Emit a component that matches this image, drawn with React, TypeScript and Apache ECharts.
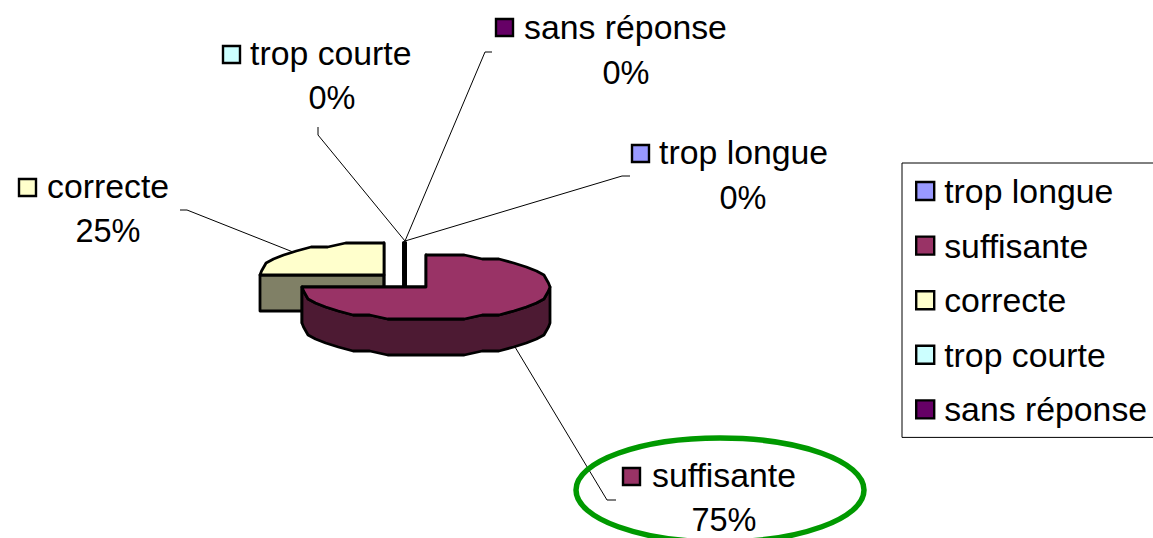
import React, { useEffect, useRef } from "react";
import * as echarts from "echarts";

// ---- data
const categories = ["trop longue", "suffisante", "correcte", "trop courte", "sans réponse"];
const percents = [0, 75, 25, 0, 0];
const topColors = ["#9999FF", "#993366", "#FFFFCC", "#CCFFFF", "#660066"];
const sideColors = ["#4D4D80", "#4D1A33", "#808066", "#668080", "#330033"];

// ---- layout
const FONT = "'Liberation Sans', Arial, sans-serif";
const NAME_SIZE = 33.8;
const PERCENT_SIZE = 32.5;
const RX = 124;
const RY = 32.5;
const DEPTH = 36;
const STEP = 9;
const SNAP = 4; // the rim of the original is a coarse, stepped outline
// exploded centre of each slice, in category order
const centres: [number, number][] = [
  [405.6, 275],
  [426, 287],
  [384, 275],
  [403.6, 275],
  [404.6, 275],
];
// back to front
const drawOrder = [2, 0, 3, 4, 1];
// swatch left/top, text left, first-line mid y, percent centre x, percent mid y
const labelPos = [
  { sx: 632, sy: 145, tx: 659, ty: 152, px: 743, py: 198 },
  { sx: 623, sy: 468, tx: 652, ty: 475, px: 724, py: 520 },
  { sx: 19, sy: 179, tx: 47, ty: 186, px: 108, py: 231 },
  { sx: 223, sy: 46, tx: 250, ty: 53, px: 332, py: 98 },
  { sx: 496, sy: 19, tx: 524, ty: 27, px: 626, py: 73 },
];
const leaders: number[][][] = [
  [[630, 176], [622, 176], [405, 241]],
  [[515, 347], [607, 500], [616, 500]],
  [[180, 210], [187, 210], [293, 252]],
  [[318, 127], [318, 135], [405, 241]],
  [[492, 52], [485, 52], [405, 241]],
];

const total = percents.reduce((a, b) => a + b, 0);
const startAngle = (i: number) =>
  (percents.slice(0, i).reduce((a, b) => a + b, 0) / total) * 360;

function rimPoint(i: number, deg: number, dy = 0): number[] {
  const [cx, cy] = centres[i];
  const r = (deg * Math.PI) / 180;
  const yOff = -RY * Math.cos(r);
  return [cx + RX * Math.sin(r), cy + Math.round(yOff / SNAP) * SNAP + dy];
}

function arcPoints(i: number, a0: number, a1: number, dy = 0): number[][] {
  const pts: number[][] = [];
  if (a1 <= a0) return [rimPoint(i, a0, dy)];
  let a = a0;
  while (a < a1) {
    pts.push(rimPoint(i, a, dy));
    a += STEP;
  }
  pts.push(rimPoint(i, a1, dy));
  return pts;
}

function renderSlice(i: number) {
  return (_params: any, api: any) => {
    const sweep = (api.value(0) / total) * 360;
    const a0 = startAngle(i);
    const a1 = a0 + sweep;
    const [cx, cy] = centres[i];
    const lineStyle = {
      stroke: "#000",
      lineWidth: 2.8,
      lineJoin: "round",
    };
    const children: any[] = [];
    const wall = (deg: number) => ({
      type: "polygon",
      shape: {
        points: [[cx, cy], rimPoint(i, deg), rimPoint(i, deg, DEPTH), [cx, cy + DEPTH]],
      },
      style: { fill: sideColors[i], ...lineStyle },
    });
    children.push(wall(a0));
    children.push(wall(a1));
    const f0 = Math.max(a0, 90);
    const f1 = Math.min(a1, 270);
    if (f1 > f0) {
      const upper = arcPoints(i, f0, f1);
      const lower = arcPoints(i, f0, f1, DEPTH).reverse();
      children.push({
        type: "polygon",
        shape: { points: [...upper, ...lower] },
        style: { fill: sideColors[i], ...lineStyle },
      });
    }
    children.push({
      type: "polygon",
      shape: { points: [[cx, cy], ...arcPoints(i, a0, a1)] },
      style: { fill: topColors[i], ...lineStyle },
    });
    return { type: "group", children };
  };
}

export default function App() {
  const ref = useRef<HTMLDivElement>(null);
  useEffect(() => {
    if (!ref.current) return;
    const chart = echarts.init(ref.current, undefined, { renderer: "svg" });
    const labelEls: any[] = [];
    categories.forEach((name, i) => {
      const p = labelPos[i];
      labelEls.push({
        type: "polyline",
        z: 5,
        shape: { points: leaders[i] },
        style: { stroke: "#000", lineWidth: 1, fill: "none" },
      });
      labelEls.push({
        type: "rect",
        z: 6,
        shape: { x: p.sx, y: p.sy, width: 17, height: 17 },
        style: { fill: topColors[i], stroke: "#000", lineWidth: 2.4 },
      });
      labelEls.push({
        type: "text",
        z: 6,
        x: p.tx,
        y: p.ty,
        style: {
          text: name,
          font: `${NAME_SIZE}px ${FONT}`,
          fill: "#000",
          textAlign: "left",
          textVerticalAlign: "middle",
        },
      });
      labelEls.push({
        type: "text",
        z: 6,
        x: p.px,
        y: p.py,
        style: {
          text: `${Math.round((percents[i] / total) * 100)}%`,
          font: `${PERCENT_SIZE}px ${FONT}`,
          fill: "#000",
          textAlign: "center",
          textVerticalAlign: "middle",
        },
      });
    });
    labelEls.push({
      type: "ellipse",
      z: 7,
      shape: { cx: 720, cy: 490, rx: 144, ry: 52 },
      style: { fill: "none", stroke: "#009900", lineWidth: 5.5 },
    });

    chart.setOption({
      animation: false,
      backgroundColor: "#fff",
      legend: {
        orient: "vertical",
        left: 902,
        top: 163,
        padding: [11, 40, 11, 13],
        borderColor: "#000",
        borderWidth: 1,
        itemGap: 20.6,
        itemWidth: 18,
        itemHeight: 18,
        selectedMode: false,
        icon: "rect",
        textStyle: {
          fontFamily: FONT,
          fontSize: NAME_SIZE,
          lineHeight: 34,
          color: "#000",
          padding: [0, 0, 0, 5],
        },
        data: categories.map((name, i) => ({
          name,
          itemStyle: { color: topColors[i], borderColor: "#000", borderWidth: 2.4 },
        })),
      },
      series: drawOrder.map((i, order) => ({
        type: "custom",
        name: categories[i],
        coordinateSystem: "none",
        z: 2 + order,
        silent: true,
        itemStyle: { color: topColors[i] },
        data: [[percents[i]]],
        renderItem: renderSlice(i),
      })),
      graphic: { elements: labelEls },
    });
    return () => chart.dispose();
  }, []);
  return (
    <div
      ref={ref}
      style={{ position: "absolute", left: 0, top: 0, width: 1153, height: 538 }}
    />
  );
}
